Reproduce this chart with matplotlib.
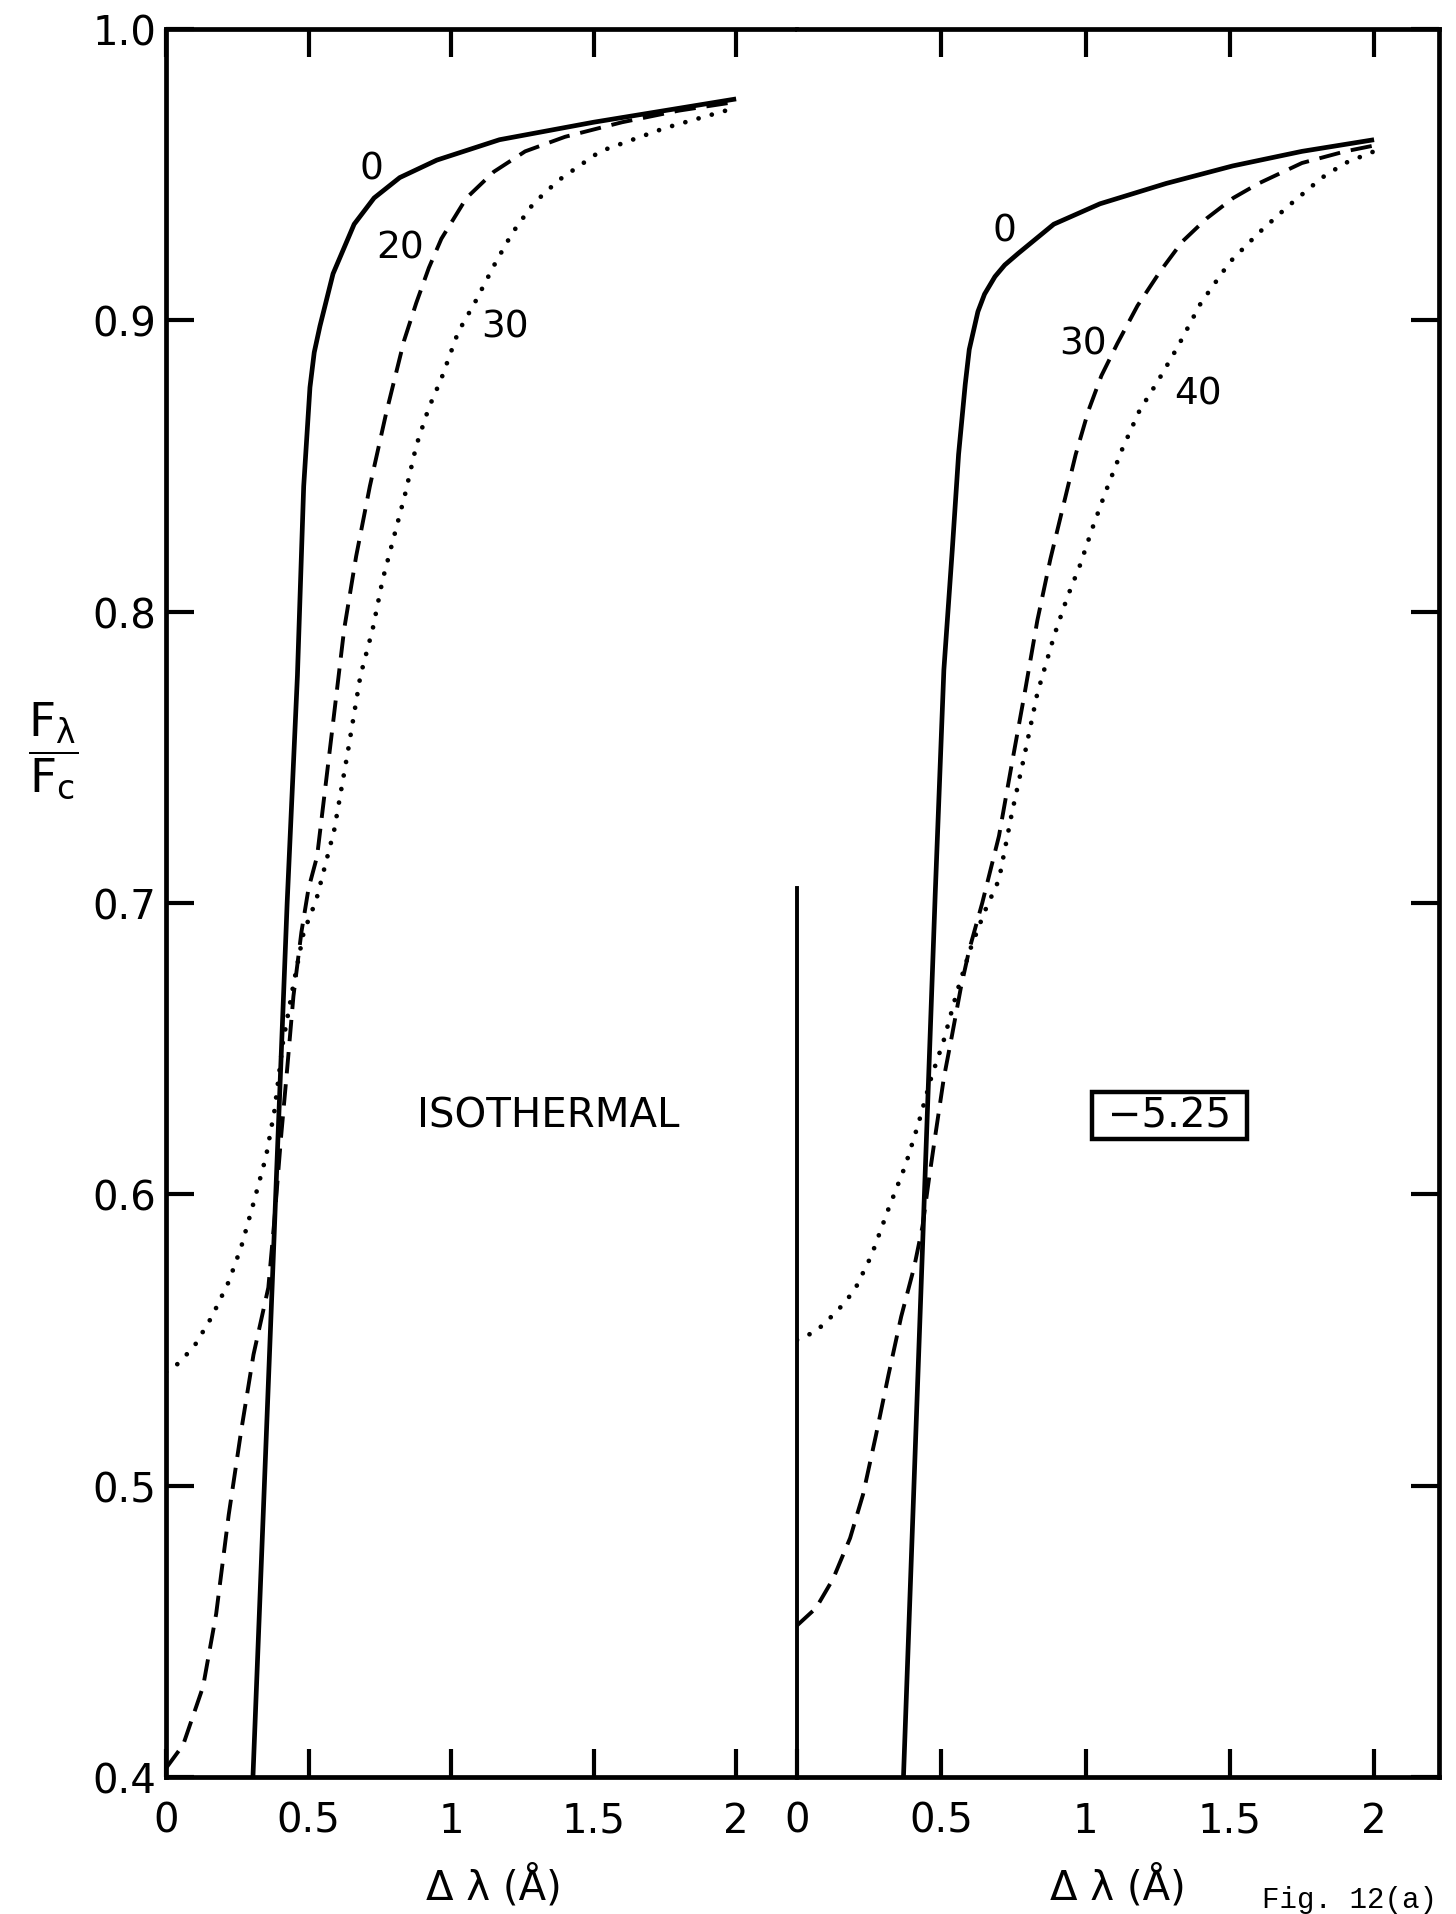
import numpy as np
import matplotlib
matplotlib.use("Agg")
import matplotlib.pyplot as plt

plt.rcParams["font.family"] = ["DejaVu Sans"]
plt.rcParams["mathtext.default"] = "regular"

# ---- left panel: isothermal, curves labelled 0 / 20 / 30 ----
iso0_x = [0.305, 0.425, 0.461, 0.483, 0.505, 0.52, 0.54, 0.586, 0.66, 0.73, 0.82, 0.95,
          1.17, 1.5, 1.75, 2.0]
iso0_y = [0.400, 0.700, 0.778, 0.843, 0.877, 0.889, 0.898, 0.916, 0.933, 0.942, 0.949,
          0.955, 0.962, 0.968, 0.972, 0.976]
iso20_x = [0.0, 0.06, 0.13, 0.176, 0.22, 0.264, 0.307, 0.359, 0.381, 0.403, 0.425,
           0.447, 0.475, 0.50, 0.53, 0.585, 0.625, 0.667, 0.715, 0.772, 0.835, 0.878,
           0.922, 0.966, 1.054, 1.15, 1.26, 1.4, 1.6, 1.8, 2.0]
iso20_y = [0.403, 0.411, 0.431, 0.456, 0.490, 0.519, 0.545, 0.568, 0.592, 0.619, 0.643,
           0.668, 0.690, 0.705, 0.716, 0.761, 0.794, 0.819, 0.843, 0.868, 0.893, 0.906,
           0.918, 0.928, 0.942, 0.951, 0.958, 0.963, 0.968, 0.972, 0.975]
iso30_x = [0.0, 0.044, 0.1, 0.161, 0.22, 0.264, 0.307, 0.351, 0.381, 0.41, 0.447, 0.483,
           0.527, 0.59, 0.638, 0.682, 0.725, 0.76, 0.795, 0.838, 0.878, 0.922, 0.966,
           1.025, 1.083, 1.157, 1.215, 1.288, 1.376, 1.523, 1.75, 2.0]
iso30_y = [0.539, 0.542, 0.548, 0.558, 0.570, 0.582, 0.597, 0.613, 0.629, 0.652, 0.672,
           0.690, 0.701, 0.725, 0.752, 0.778, 0.794, 0.811, 0.824, 0.840, 0.857, 0.870,
           0.880, 0.896, 0.906, 0.920, 0.930, 0.940, 0.948, 0.958, 0.966, 0.973]

# ---- right panel: -5.25, curves labelled 0 / 30 / 40 ----
m0_x = [0.369, 0.479, 0.509, 0.538, 0.56, 0.583, 0.597, 0.627, 0.65, 0.686, 0.72, 0.767,
        0.89, 1.05, 1.28, 1.51, 1.75, 2.0]
m0_y = [0.400, 0.703, 0.780, 0.821, 0.854, 0.878, 0.890, 0.903, 0.909, 0.915, 0.919,
        0.923, 0.933, 0.940, 0.947, 0.953, 0.958, 0.962]
m30_x = [0.0, 0.066, 0.125, 0.184, 0.229, 0.273, 0.317, 0.361, 0.406, 0.435, 0.457,
         0.479, 0.509, 0.538, 0.568, 0.597, 0.642, 0.70, 0.745, 0.789, 0.833, 0.878,
         0.922, 0.966, 1.01, 1.055, 1.11, 1.18, 1.26, 1.335, 1.42, 1.512, 1.6, 1.75,
         1.9, 2.0]
m30_y = [0.452, 0.458, 0.468, 0.482, 0.497, 0.517, 0.538, 0.558, 0.575, 0.589, 0.605,
         0.620, 0.640, 0.655, 0.671, 0.684, 0.700, 0.723, 0.748, 0.772, 0.797, 0.818,
         0.836, 0.854, 0.869, 0.881, 0.892, 0.905, 0.917, 0.927, 0.935, 0.942, 0.947,
         0.954, 0.958, 0.960]
m40_x = [0.0, 0.066, 0.14, 0.199, 0.258, 0.317, 0.376, 0.42, 0.465, 0.509, 0.553, 0.60,
         0.65, 0.70, 0.745, 0.789, 0.833, 0.892, 0.937, 0.981, 1.025, 1.069, 1.128,
         1.187, 1.25, 1.32, 1.40, 1.5, 1.6, 1.7, 1.82, 1.9, 2.0]
m40_y = [0.550, 0.553, 0.560, 0.567, 0.579, 0.595, 0.610, 0.624, 0.640, 0.653, 0.669,
         0.684, 0.697, 0.708, 0.731, 0.751, 0.772, 0.792, 0.805, 0.816, 0.829, 0.841,
         0.856, 0.869, 0.879, 0.891, 0.906, 0.920, 0.930, 0.939, 0.949, 0.954, 0.958]

y_ticks = [0.4, 0.5, 0.6, 0.7, 0.8, 0.9, 1.0]
y_labels = ["0.4", "0.5", "0.6", "0.7", "0.8", "0.9", "1.0"]
x_ticks = [0, 0.5, 1, 1.5, 2]
x_labels = ["0", "0.5", "1", "1.5", "2"]

iso_curve_labels = [("0", 0.72, 0.952), ("20", 0.82, 0.925), ("30", 1.19, 0.898)]
m_curve_labels = [("0", 0.72, 0.931), ("30", 0.99, 0.892), ("40", 1.39, 0.875)]
divider_top = 0.705

W, H = 1456, 1915
fig = plt.figure(figsize=(W / 100, H / 100), dpi=100)
axL = fig.add_axes([166 / W, 1 - 1778 / H, 630 / W, 1748 / H])
axR = fig.add_axes([797 / W, 1 - 1778 / H, 642 / W, 1748 / H])

solid = dict(color="black", lw=3.4, solid_capstyle="butt", solid_joinstyle="round")
dash = dict(color="black", lw=2.8, linestyle=(0, (5.5, 2.8)), dash_capstyle="butt")
dot = dict(color="black", lw=3.4, linestyle=(0, (0.01, 2.9)), dash_capstyle="round")

axL.plot(iso0_x, iso0_y, **solid)
axL.plot(iso20_x, iso20_y, **dash)
axL.plot(iso30_x, iso30_y, **dot)
axR.plot(m0_x, m0_y, **solid)
axR.plot(m30_x, m30_y, **dash)
axR.plot(m40_x, m40_y, **dot)
axR.plot([0, 0], [0.4, divider_top], color="black", lw=2.8, clip_on=False)

tick_font = 29
for ax, xmax in ((axL, 2.21), (axR, 2.225)):
    ax.set_xlim(0, xmax)
    ax.set_ylim(0.4, 1.0)
    for s in ax.spines.values():
        s.set_linewidth(3.4)
    ax.set_xticks(x_ticks)
    ax.set_xticklabels(x_labels, fontsize=tick_font)
    ax.set_yticks(y_ticks)
    ax.tick_params(axis="x", which="both", direction="in", top=True, bottom=True,
                   length=20, width=3, pad=17)
    ax.tick_params(axis="y", direction="in", length=20, width=3, pad=7)

axL.spines["right"].set_visible(False)
axL.tick_params(axis="y", left=True, right=False)
axL.set_yticklabels(y_labels, fontsize=tick_font)
axR.spines["left"].set_visible(False)
axR.tick_params(axis="y", left=False, right=True, labelleft=False)
axR.xaxis.get_major_ticks()[0].tick2line.set_visible(False)

for txt, x, y in iso_curve_labels:
    axL.text(x, y, txt, fontsize=27, ha="center", va="center")
for txt, x, y in m_curve_labels:
    axR.text(x, y, txt, fontsize=27, ha="center", va="center")

axL.text(1.34, 0.627, "ISOTHERMAL", fontsize=29, ha="center", va="center")
axR.text(1.29, 0.627, " \u22125.25 ", fontsize=29, ha="center", va="center",
         bbox=dict(boxstyle="square,pad=0.08", fc="white", ec="black", lw=3.2))

for ax, cx in ((axL, 0.52), (axR, 0.5)):
    ax.text(cx, -0.0624, "Δ λ (Å)", fontsize=29, ha="center", va="center",
            transform=ax.transAxes)

fig.text(53 / W, 1 - 751 / H, r"$\dfrac{F_\lambda}{F_c}$", fontsize=34,
         ha="center", va="center")
fig.text(1262 / W, 1 / H, "Fig. 12(a)", fontsize=21, family="Liberation Mono",
         ha="left", va="bottom")

fig.savefig("out.png", dpi=100)
